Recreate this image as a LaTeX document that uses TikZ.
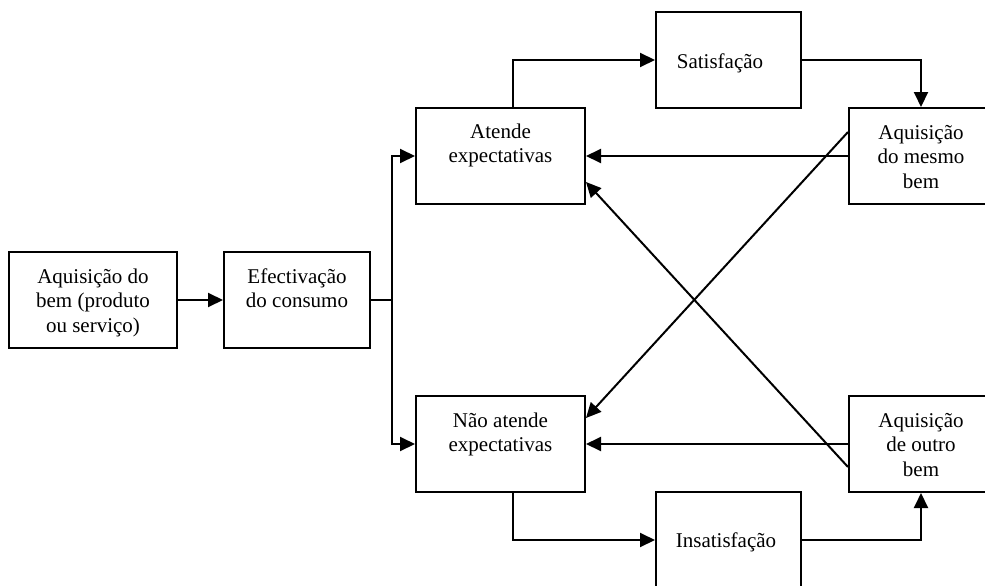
\documentclass[tikz,border=0pt]{standalone}
\usepackage{fontspec}
\setmainfont{Liberation Serif}
\usetikzlibrary{arrows.meta}
\begin{document}
\begin{tikzpicture}[x=1pt,y=-1pt,
  box/.style={draw, line width=2pt, minimum height=96pt, inner sep=0pt},
  txt/.style={align=center, inner sep=0pt, anchor=base, font=\fontsize{21}{24.5}\selectfont},
  ln/.style={line width=2pt},
  arr/.style={line width=2pt, -{Triangle[length=15pt,width=14pt]}}]
\useasboundingbox (0,0) rectangle (985,586);
\clip (0,0) rectangle (985,586);
% boxes
\node[box, minimum width=168pt] (b1) at (93,300) {};
\node[box, minimum width=146pt] (b2) at (297,300) {};
\node[box, minimum width=169pt] (ate) at (500.5,156) {};
\node[box, minimum width=145pt] (sat) at (728.5,60) {};
\node[box, minimum width=144pt] (mes) at (921,156) {};
\node[box, minimum width=169pt] (nao) at (500.5,444) {};
\node[box, minimum width=144pt] (out) at (921,444) {};
\node[box, minimum width=145pt] (ins) at (728.5,540) {};
% texts (anchor base = baseline of the last line)
\node[txt] (t1) at (93,332) {Aquisição do\\bem (produto\\ou serviço)};
\node[txt] (t2) at (297,307.5) {Efectivação\\do consumo};
\node[txt] (t3) at (500.5,162.5) {Atende\\expectativas};
\node[txt] (t4) at (720,68) {Satisfação};
\node[txt] (t5) at (921,188) {Aquisição\\do mesmo\\bem};
\node[txt] (t6) at (500.5,451.5) {Não atende\\expectativas};
\node[txt] (t7) at (921,476) {Aquisição\\de outro\\bem};
\node[txt] (t8) at (726,547) {Insatisfação};
% connectors
\coordinate (j) at (392,300);
\draw[arr] (b1.east) -- (b2.west);
\draw[ln] (b2.east) -- (j);
\draw[arr] (j) |- (ate.west);
\draw[arr] (j) |- (nao.west);
\draw[arr] ([xshift=12.5pt]ate.north) |- (sat.west);
\draw[arr] (sat.east) -| (mes.north);
\draw[arr] (mes.west) -- (ate.east);
\draw[arr] (out.west) -- (nao.east);
\draw[arr] ([yshift=24pt]mes.west) -- ([yshift=26pt]nao.east);
\draw[arr] ([yshift=-23pt]out.west) -- ([yshift=-26pt]ate.east);
\draw[arr] ([xshift=12.5pt]nao.south) |- (ins.west);
\draw[arr] (ins.east) -| (out.south);
\end{tikzpicture}
\end{document}
